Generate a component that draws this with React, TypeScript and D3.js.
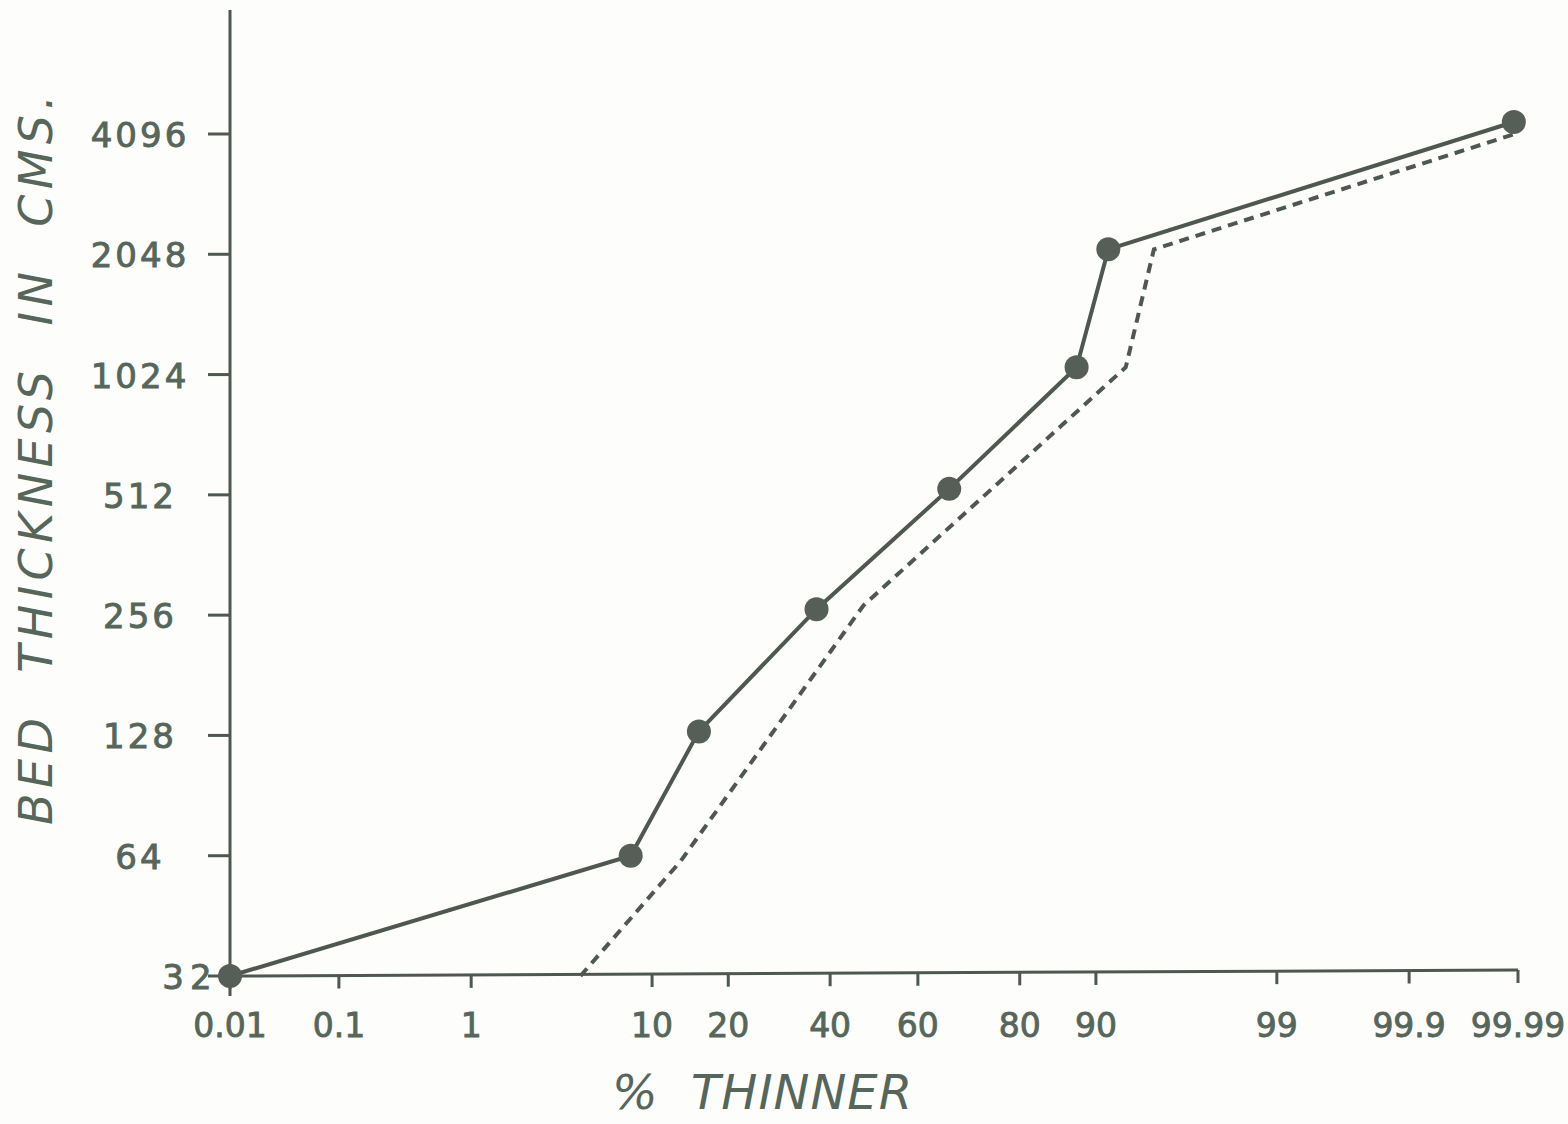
import React from "react";
import * as d3 from "d3";

// ---- data ----
const yTicks = [32, 64, 128, 256, 512, 1024, 2048, 4096];
const xTicks = [0.01, 0.1, 1, 10, 20, 40, 60, 80, 90, 99, 99.9, 99.99];
const xTickLabels = ["0.01", "0.1", "1", "10", "20", "40", "60", "80", "90", "99", "99.9", "99.99"];

const observedPct = [0.01, 8, 15.6, 37, 66.8, 87.9, 91.2, 99.989];
const observedThk = [32, 64, 131, 265, 530, 1068, 2107, 4390];

const expectedPct = [4.5, 13.2, 47.6, 92.7, 94.7, 99.99];
const expectedThk = [32, 62, 271, 1068, 2107, 4120];

// inverse normal CDF (Acklam) used for the probability axis
function probit(p: number): number {
  const a = [-3.969683028665376e1, 2.209460984245205e2, -2.759285104469687e2, 1.38357751867269e2, -3.066479806614716e1, 2.506628277459239];
  const b = [-5.447609879822406e1, 1.615858368580409e2, -1.556989798598866e2, 6.680131188771972e1, -1.328068155288572e1];
  const c = [-7.784894002430293e-3, -3.223964580411365e-1, -2.400758277161838, -2.549732539343734, 4.374664141464968, 2.938163982698783];
  const d = [7.784695709041462e-3, 3.224671290700398e-1, 2.445134137142996, 3.754408661907416];
  const pl = 0.02425;
  if (p < pl) {
    const q = Math.sqrt(-2 * Math.log(p));
    return (((((c[0] * q + c[1]) * q + c[2]) * q + c[3]) * q + c[4]) * q + c[5]) / ((((d[0] * q + d[1]) * q + d[2]) * q + d[3]) * q + 1);
  }
  if (p > 1 - pl) {
    const q = Math.sqrt(-2 * Math.log(1 - p));
    return -(((((c[0] * q + c[1]) * q + c[2]) * q + c[3]) * q + c[4]) * q + c[5]) / ((((d[0] * q + d[1]) * q + d[2]) * q + d[3]) * q + 1);
  }
  const q = p - 0.5;
  const r = q * q;
  return ((((((a[0] * r + a[1]) * r + a[2]) * r + a[3]) * r + a[4]) * r + a[5]) * q) / (((((b[0] * r + b[1]) * r + b[2]) * r + b[3]) * r + b[4]) * r + 1);
}

const W = 1568;
const H = 1124;
const axisX = 230;
const axisY = 976;
const ink = "#4e5851";
const textCol = "#56665a";
const font = "'DejaVu Sans', 'Noto Sans', sans-serif";

export default function App() {
  const zScale = d3.scaleLinear().domain([probit(0.0001), probit(0.9999)]).range([axisX, 1518]);
  const x = (pct: number) => zScale(probit(pct / 100));
  const y = d3.scaleLog().base(2).domain([32, 4096]).range([axisY, 134]);

  const line = d3.line<[number, number]>().x((d) => x(d[0])).y((d) => y(d[1]));
  const obs: [number, number][] = observedPct.map((p, i) => [p, observedThk[i]]);
  const exp: [number, number][] = expectedPct.map((p, i) => [p, expectedThk[i]]);

  const xEnd = x(99.99);

  return (
    <svg width={W} height={H} style={{ position: "absolute", left: 0, top: 0, background: "#fdfdfb" }}>
      <rect x={0} y={0} width={W} height={H} fill="#fdfdfb" />
      {/* axes */}
      <line x1={axisX} y1={10} x2={axisX} y2={axisY + 20} stroke={ink} strokeWidth={3} />
      <line x1={axisX} y1={axisY} x2={xEnd} y2={axisY - 6} stroke={ink} strokeWidth={3} />
      {yTicks.map((t, i) => (
        <g key={"yt" + t}>
          <line x1={axisX - 22} y1={y(t)} x2={axisX} y2={y(t)} stroke={ink} strokeWidth={3} />
          <text
            x={i === 0 ? 190 : 140}
            y={y(t) + 13}
            textAnchor="middle"
            fontFamily={font}
            fontSize={34}
            letterSpacing={i === 0 ? 6 : 3}
            fill={textCol}
            stroke={textCol}
            strokeWidth={0.9}
          >
            {t}
          </text>
        </g>
      ))}
      {xTicks.map((t, i) => {
        const xp = x(t);
        const yb = axisY - 6 * ((xp - axisX) / (xEnd - axisX));
        return (
          <g key={"xt" + t}>
            <line x1={xp} y1={yb} x2={xp} y2={yb + 13} stroke={ink} strokeWidth={3} />
            <text
              x={xp}
              y={1037}
              textAnchor="middle"
              fontFamily={font}
              fontSize={33}
              fill={textCol}
              stroke={textCol}
              strokeWidth={0.9}
            >
              {xTickLabels[i]}
            </text>
          </g>
        );
      })}
      {/* series */}
      <path d={line(exp) || ""} fill="none" stroke={ink} strokeWidth={4} strokeDasharray="10 7" />
      <path d={line(obs) || ""} fill="none" stroke={ink} strokeWidth={4} />
      {obs.map((d, i) => (
        <circle key={"c" + i} cx={x(d[0])} cy={y(d[1])} r={12} fill="#555f58" />
      ))}
      {/* titles */}
      <text
        transform={`translate(52, 460) rotate(-90)`}
        textAnchor="middle"
        fontFamily={font}
        fontStyle="italic"
        fontSize={46}
        fill={textCol}
        textLength={730}
        lengthAdjust="spacing"
        style={{ whiteSpace: "pre" }}
      >
        BED  THICKNESS  IN  CMS.
      </text>
      <text
        x={762}
        y={1109}
        textAnchor="middle"
        fontFamily={font}
        fontStyle="italic"
        fontSize={48}
        fill={textCol}
        textLength={300}
        lengthAdjust="spacing"
        style={{ whiteSpace: "pre" }}
      >
        %  THINNER
      </text>
    </svg>
  );
}
